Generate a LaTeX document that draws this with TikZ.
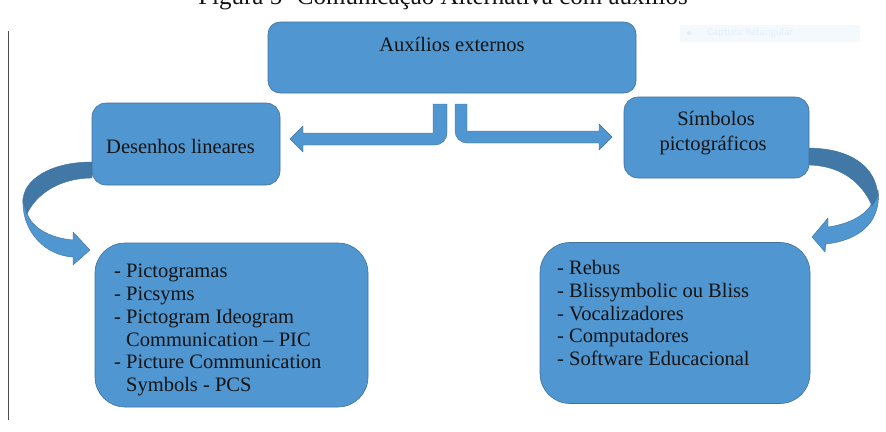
\documentclass[tikz,border=0pt]{standalone}
\usepackage{fontspec}
\setmainfont{Liberation Serif}
\newfontfamily\uifont{Open Sans}
\definecolor{boxblue}{RGB}{80,150,208}
\definecolor{boxedge}{RGB}{65,113,156}
\definecolor{darkstrip}{RGB}{66,120,166}
\definecolor{txt}{RGB}{20,20,20}
\definecolor{captbg}{RGB}{244,249,254}
\definecolor{captfg}{RGB}{226,237,248}
\tikzset{
  bluebox/.style={draw=boxedge, line width=0.6pt, fill=boxblue, rounded corners=#1, inner sep=0pt},
  bigarrow/.style={fill=boxblue, draw=boxedge, line width=0.4pt, line join=round},
  stripfill/.style={fill=darkstrip, draw=boxedge, line width=0.4pt},
  lbl/.style={text=txt, font=\fontsize{20.5}{22.8}\selectfont, inner sep=0pt},
  listtxt/.style={lbl, align=left, anchor=north west}
}
\begin{document}
\begin{tikzpicture}[x=1pt,y=-1pt]
\clip (0,0) rectangle (886,431);
\fill[white] (0,0) rectangle (886,431);

% title (cut off at top, as in the reference)
\node[text=txt, font=\fontsize{25}{28}\selectfont, inner sep=0pt, anchor=base] (title) at (443,5) {Figura 5- Comunicação Alternativa com auxílios};

% left margin rule
\coordinate (ruleTop) at (8,31);
\coordinate (ruleBot) at (8,420);
\draw[black!70, line width=0.8pt] (ruleTop) -- (ruleBot);

% faint capture overlay
\node[fill=captbg, minimum width=180pt, minimum height=17pt, inner sep=0pt] (capt) at (770,33) {};
\node[text=captfg, font=\uifont\fontsize{9.5}{10}\selectfont, anchor=west, inner sep=0pt] (captxt) at (707,33) {Captura Retangular};
\node[fill=captfg, circle, minimum size=4pt, inner sep=0pt] (captdot) at (689,33) {};

% bent arrows from the top box
\path[bigarrow] (433,104) -- (433,133) -- (303,133) -- (303,126) -- (290,139) -- (303,152) -- (303,145)
   -- (435,145) arc[start angle=90, end angle=0, radius=12] -- (447,104) -- cycle;
\path[bigarrow] (467,104) -- (467,131) -- (599,131) -- (599,124) -- (612,137) -- (599,150) -- (599,143)
   -- (467,143) arc[start angle=90, end angle=180, radius=12] -- (455,104) -- cycle;

% curved arrow on the left
\path[bigarrow] (23,198) .. controls (21,234) and (48,256) .. (73,257) -- (73,265) -- (90,250) -- (73,232)
   -- (73,240) .. controls (50,238) and (32,228) .. (27,213) -- cycle;
\path[stripfill] (92,162) .. controls (50,162) and (23,180) .. (23,201) -- (27,214)
   .. controls (36,194) and (60,178) .. (92,178) -- cycle;

% curved arrow on the right
\path[bigarrow] (878,190) .. controls (882,225) and (855,241) .. (826,244) -- (825,252) -- (812,237) -- (828,218)
   -- (828,227) .. controls (850,224) and (867,214) .. (872,203) -- cycle;
\path[stripfill] (807,148) .. controls (850,148) and (876,166) .. (878,196) -- (872,206)
   .. controls (862,182) and (840,165) .. (807,165) -- cycle;

% boxes
\node[bluebox=12pt, minimum width=368pt, minimum height=71pt] (aux) at (452,57.5) {};
\node[bluebox=14pt, minimum width=188pt, minimum height=82pt] (des) at (186,144) {};
\node[bluebox=14pt, minimum width=185pt, minimum height=81pt] (sim) at (716.5,137.5) {};
\node[bluebox=30pt, minimum width=273pt, minimum height=164pt] (pic) at (231.5,325) {};
\node[bluebox=30pt, minimum width=270pt, minimum height=161pt] (reb) at (675,323) {};

% labels
\node[lbl, anchor=base] (auxt) at (452,51) {Auxílios externos};
\node[lbl, anchor=base west] (dest) at (106,153) {Desenhos lineares};
\node[lbl, anchor=base] (simt1) at (716,125) {Símbolos};
\node[lbl, anchor=base] (simt2) at (713,150) {pictográficos};

\node[listtxt] (pict) at (114,264) {- Pictogramas\\- Picsyms\\- Pictogram Ideogram\\\phantom{-} Communication – PIC\\- Picture Communication\\\phantom{-} Symbols - PCS};
\node[listtxt] (rebt) at (557,260) {- Rebus\\- Blissymbolic ou Bliss\\- Vocalizadores\\- Computadores\\- Software Educacional};
\end{tikzpicture}
\end{document}
